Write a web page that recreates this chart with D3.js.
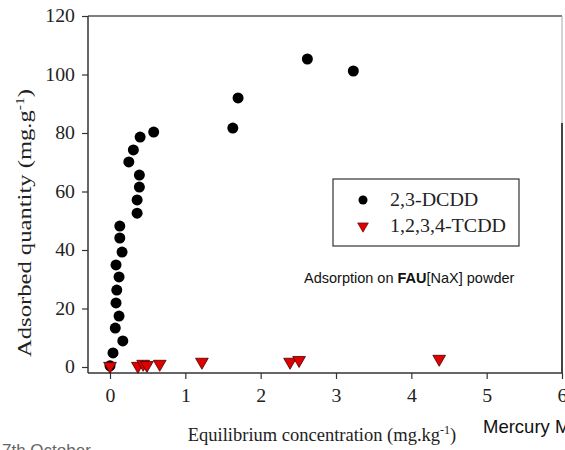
<!DOCTYPE html>
<html>
<head>
<meta charset="utf-8">
<script src="https://cdn.jsdelivr.net/npm/d3@7/dist/d3.min.js"></script>
<style>
  html, body { margin: 0; padding: 0; background: #fff; }
  svg { display: block; }
</style>
</head>
<body>
<svg id="chart" width="565" height="450"></svg>
<script>
// ---- Data ----
const xTicks = [0, 1, 2, 3, 4, 5, 6];
const yTicks = [0, 20, 40, 60, 80, 100, 120];

const seriesNames = ["2,3-DCDD", "1,2,3,4-TCDD"];

// 2,3-DCDD (black circles)
const dcddX = [0.00, 0.04, 0.17, 0.07, 0.12, 0.08, 0.09, 0.12, 0.08, 0.16, 0.13, 0.13,
               0.36, 0.36, 0.39, 0.39, 0.25, 0.31, 0.40, 0.58, 1.63, 1.70, 2.62, 3.23];
const dcddY = [0.4, 4.8, 8.9, 13.3, 17.4, 21.9, 26.3, 30.8, 34.9, 39.3, 44.1, 48.2,
               52.6, 57.1, 61.5, 65.6, 70.1, 74.2, 78.6, 80.3, 81.7, 92.0, 105.3, 101.2];

// 1,2,3,4-TCDD (red down-triangles)
const tcddX = [0.00, 0.37, 0.44, 0.49, 0.66, 1.22, 2.39, 2.51, 4.37];
const tcddY = [0.0, 0.0, 0.7, 0.3, 0.7, 1.4, 1.4, 2.0, 2.4];

(function () {
// ---- Layout ----
const svg = d3.select("#chart");
const pL = 88, pR = 562, pT = 16, pB = 373;
const x = d3.scaleLinear().domain([0, 6]).range([110, 562]);
const y = d3.scaleLinear().domain([0, 120]).range([367, 16]);

const serif = "'Liberation Serif', 'DejaVu Serif', serif";
const sans = "'Liberation Sans', Arial, sans-serif";
const axisColor = "#333";

// horizontally widen texts (the reference glyphs are slightly stretched)
function stretch(sel, f) {
  sel.each(function () {
    const w = this.getComputedTextLength();
    d3.select(this).attr("textLength", w * f).attr("lengthAdjust", "spacingAndGlyphs");
  });
}

// Frame: top and right borders
svg.append("line").attr("x1", pL).attr("x2", pR).attr("y1", pT).attr("y2", pT)
  .attr("stroke", "#555").attr("stroke-width", 1.5);
svg.append("line").attr("x1", pR).attr("x2", pR).attr("y1", pT).attr("y2", 123)
  .attr("stroke", "#aaa").attr("stroke-width", 1);
svg.append("line").attr("x1", pR).attr("x2", pR).attr("y1", 123).attr("y2", pB)
  .attr("stroke", "#444").attr("stroke-width", 2);

// Axes
const yAxis = svg.append("g").attr("transform", `translate(${pL},0)`)
  .call(d3.axisLeft(y).tickValues(yTicks).tickFormat(d3.format("d"))
    .tickSize(6).tickPadding(7).tickSizeOuter(0));
yAxis.select(".domain").remove();
const xAxis = svg.append("g").attr("transform", `translate(0,${pB})`)
  .call(d3.axisBottom(x).tickValues(xTicks).tickFormat(d3.format("d"))
    .tickSize(6).tickPadding(10).tickSizeOuter(0));
xAxis.select(".domain").remove();
[yAxis, xAxis].forEach(g => {
  g.selectAll("line").attr("stroke", axisColor).attr("stroke-width", 1.2);
  g.selectAll("text").attr("font-family", serif).attr("font-size", 18).attr("fill", "#222");
  stretch(g.selectAll("text"), 1.1);
});
svg.append("line").attr("x1", pL).attr("x2", pL).attr("y1", pT).attr("y2", pB)
  .attr("stroke", axisColor).attr("stroke-width", 1.5);
svg.append("line").attr("x1", pL).attr("x2", pR).attr("y1", pB).attr("y2", pB)
  .attr("stroke", axisColor).attr("stroke-width", 1.5);

// Markers
const tri = d3.symbol().type(d3.symbolTriangle);
const dcdd = dcddX.map((v, i) => ({ x: v, y: dcddY[i] }));
const tcdd = tcddX.map((v, i) => ({ x: v, y: tcddY[i] }));

svg.append("g").selectAll("circle").data(dcdd).join("circle")
  .attr("cx", d => x(d.x)).attr("cy", d => y(d.y)).attr("r", 5.5)
  .attr("fill", "#000");

svg.append("g").selectAll("path").data(tcdd).join("path")
  .attr("d", tri.size(70))
  .attr("transform", d => `translate(${x(d.x)},${y(d.y) - 1}) rotate(180)`)
  .attr("fill", "#e00000").attr("stroke", "#400").attr("stroke-width", 0.8);

// Axis titles
const xt = svg.append("text").attr("x", 322).attr("y", 441).attr("text-anchor", "middle")
  .attr("font-family", serif).attr("font-size", 18.5).attr("fill", "#222");
xt.append("tspan").text("Equilibrium concentration (mg.kg");
xt.append("tspan").attr("dy", -7).attr("font-size", 12).text("-1");
xt.append("tspan").attr("dy", 7).text(")");

const yt = svg.append("text").attr("transform", "translate(31,223) rotate(-90)")
  .attr("text-anchor", "middle")
  .attr("font-family", serif).attr("font-size", 19).attr("fill", "#222")
  .attr("textLength", 268).attr("lengthAdjust", "spacingAndGlyphs");
yt.append("tspan").text("Adsorbed quantity (mg.g");
yt.append("tspan").attr("dy", -7).attr("font-size", 12).text("-1");
yt.append("tspan").attr("dy", 7).text(")");

// Legend
const lg = svg.append("g");
lg.append("rect").attr("x", 333).attr("y", 179).attr("width", 186).attr("height", 67)
  .attr("fill", "#fff").attr("stroke", "#333").attr("stroke-width", 1.2);
lg.append("circle").attr("cx", 363).attr("cy", 200).attr("r", 4.5).attr("fill", "#000");
lg.append("path").attr("d", tri.size(50)).attr("transform", "translate(363,226) rotate(180)")
  .attr("fill", "#e00000").attr("stroke", "#400").attr("stroke-width", 0.6);
const labs = lg.selectAll("text.lab").data(seriesNames).join("text").attr("class", "lab")
  .attr("x", 390).attr("y", (d, i) => 206 + i * 26)
  .attr("font-family", serif).attr("font-size", 18).attr("fill", "#222")
  .text(d => d);
stretch(labs, 1.11);

// Annotation
const ann = svg.append("text").attr("x", 304).attr("y", 283)
  .attr("font-family", sans).attr("font-size", 14.5).attr("fill", "#111");
ann.append("tspan").text("Adsorption on ");
ann.append("tspan").attr("font-weight", "bold").text("FAU");
ann.append("tspan").text("[NaX] powder");

// Texts cut at the picture edges (as in the reference)
svg.append("text").attr("x", 483).attr("y", 433)
  .attr("font-family", sans).attr("font-size", 18.5).attr("fill", "#111").text("Mercury M");
svg.append("text").attr("x", 2).attr("y", 456)
  .attr("font-family", sans).attr("font-size", 17).attr("fill", "#666").text("7th October");
})();
</script>
</body>
</html>
